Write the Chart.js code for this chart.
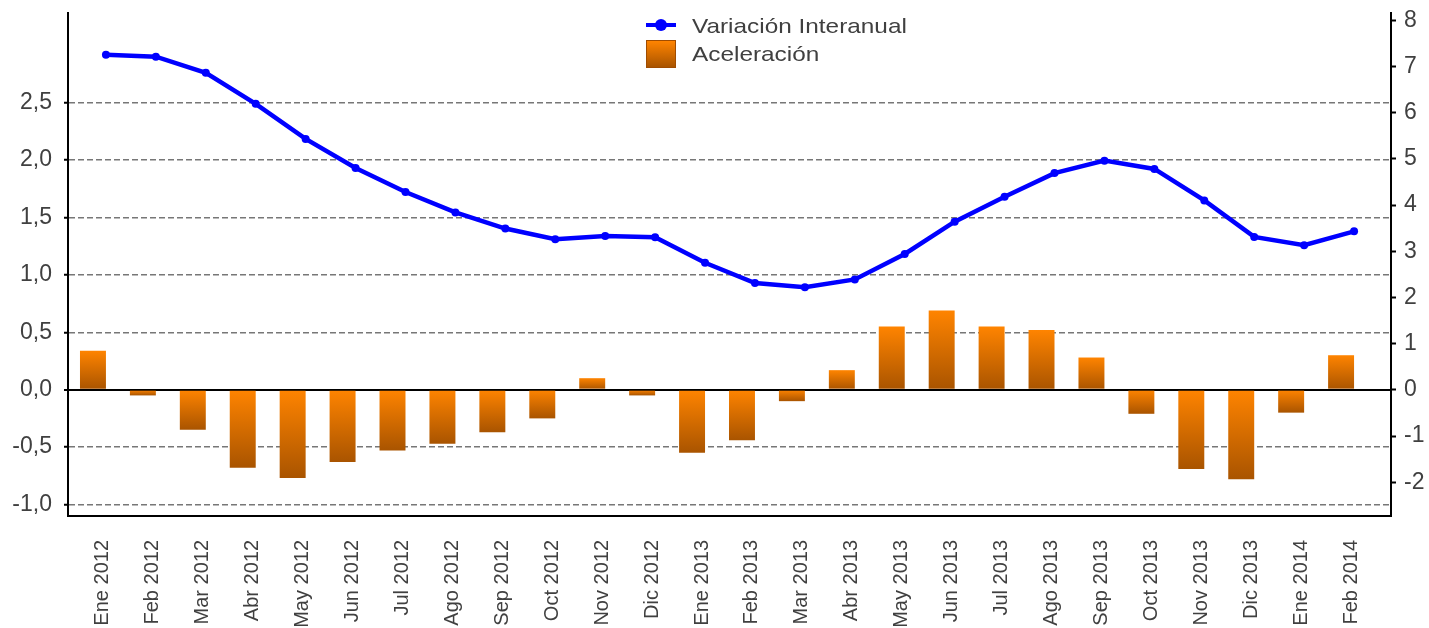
<!DOCTYPE html>
<html>
<head>
<meta charset="utf-8">
<script src="https://cdn.jsdelivr.net/npm/chart.js@4.4.1/dist/chart.umd.min.js"></script>
<style>
  body { margin: 0; background: #fff; }
  #wrap { position: relative; width: 1429px; height: 628px; }
  .leg { position: absolute; font: 21px "Liberation Sans", Arial, sans-serif; color: #404040; line-height: 26px;
         white-space: nowrap; transform: scaleX(1.16); transform-origin: left center; }
  .linea { position: absolute; left: 646px; top: 23px; width: 30px; height: 4px; background: #0000ff; }
  .punto { position: absolute; left: 655px; top: 19px; width: 12px; height: 12px; border-radius: 50%; background: #0000ff; }
  .caja { position: absolute; left: 646px; top: 40px; width: 28px; height: 26px; border: 1px solid #a04c00;
          background: linear-gradient(#ff8400, #a95400); }
</style>
</head>
<body>
<div id="wrap">
  <canvas id="grafico" width="1429" height="628"></canvas>
  <div class="linea"></div><div class="punto"></div>
  <div class="leg" style="left:692px; top:13px;">Variación Interanual</div>
  <div class="caja"></div>
  <div class="leg" style="left:692px; top:41px;">Aceleración</div>
</div>
<script>
// meses de ene 2012 a feb 2014
const meses = ["Ene 2012", "Feb 2012", "Mar 2012", "Abr 2012", "May 2012", "Jun 2012",
               "Jul 2012", "Ago 2012", "Sep 2012", "Oct 2012", "Nov 2012", "Dic 2012",
               "Ene 2013", "Feb 2013", "Mar 2013", "Abr 2013", "May 2013", "Jun 2013",
               "Jul 2013", "Ago 2013", "Sep 2013", "Oct 2013", "Nov 2013", "Dic 2013",
               "Ene 2014", "Feb 2014"];
// eje derecho
const variacion = [7.25, 7.21, 6.86, 6.19, 5.43, 4.80, 4.28, 3.84, 3.49, 3.26, 3.33, 3.30,
                   2.75, 2.31, 2.22, 2.39, 2.94, 3.64, 4.18, 4.69, 4.96, 4.78, 4.10, 3.31,
                   3.13, 3.43];
// eje izquierdo
const aceleracion = [0.34, -0.05, -0.35, -0.68, -0.77, -0.63, -0.53, -0.47, -0.37, -0.25, 0.10, -0.05,
                     -0.55, -0.44, -0.10, 0.17, 0.55, 0.69, 0.55, 0.52, 0.28, -0.21, -0.69, -0.78,
                     -0.20, 0.30];
const ticksIzq = [-1, -0.5, 0, 0.5, 1, 1.5, 2, 2.5];
const ticksDer = [-2, -1, 0, 1, 2, 3, 4, 5, 6, 7, 8];

Chart.defaults.font.family = "'Liberation Sans', Arial, sans-serif";
Chart.defaults.color = '#404040';

function sinPadding(s) { s.paddingTop = 0; s.paddingBottom = 0; s.paddingLeft = 0; s.paddingRight = 0; }

// degradado naranja por barra
function degradado(ctx) {
  const chart = ctx.chart;
  const y = chart.scales.yL;
  if (!y || !ctx.raw) return '#f07c00';
  const v = ctx.raw.y;
  const arriba = y.getPixelForValue(Math.max(v, 0));
  const abajo = y.getPixelForValue(Math.min(v, 0));
  if (!isFinite(arriba) || abajo - arriba < 1) return '#ff8400';
  const g = chart.ctx.createLinearGradient(0, arriba, 0, abajo);
  g.addColorStop(0, '#ff8400');
  g.addColorStop(1, '#a95400');
  return g;
}

new Chart("grafico", {
  data: {
    datasets: [
      {
        type: 'line',
        label: 'Variación Interanual',
        data: variacion.map((v, i) => ({ x: i, y: v })),
        xAxisID: 'x2',
        yAxisID: 'yR',
        borderColor: '#0000ff',
        backgroundColor: '#0000ff',
        borderWidth: 4.5,
        pointRadius: 4,
        pointBorderWidth: 0,
        pointBackgroundColor: '#0000ff',
        tension: 0,
        order: 0
      },
      {
        type: 'bar',
        label: 'Aceleración',
        data: aceleracion.map((v, i) => ({ x: i, y: v })),
        xAxisID: 'x',
        yAxisID: 'yL',
        backgroundColor: degradado,
        borderWidth: 0,
        grouped: false,
        barPercentage: 0.52,
        categoryPercentage: 1,
        order: 1
      }
    ]
  },
  options: {
    responsive: false,
    animation: false,
    layout: { padding: { top: 13, left: 0, right: 0, bottom: 0 } },
    plugins: { legend: { display: false }, tooltip: { enabled: false } },
    scales: {
      x: {
        type: 'linear',
        position: 'bottom',
        offset: false,
        min: -0.5,
        max: meses.length,
        grid: { display: false, drawTicks: false, offset: false },
        border: { display: true, color: '#000', width: 2 },
        afterBuildTicks: s => { s.ticks = meses.map((m, i) => ({ value: i })); },
        afterFit: s => { sinPadding(s); s.height = 112; },
        ticks: {
          autoSkip: false, minRotation: 90, maxRotation: 90, padding: 24, labelOffset: 10,
          font: { size: 20 },
          callback: v => meses[v]
        }
      },
      x2: {
        type: 'linear',
        display: false,
        offset: false,
        min: -0.76,
        max: meses.length - 0.26
      },
      yL: {
        type: 'linear',
        position: 'left',
        min: -1.1,
        max: 3.28,
        afterBuildTicks: s => { s.ticks = ticksIzq.map(v => ({ value: v })); },
        afterFit: s => { sinPadding(s); s.width = 68; },
        grid: {
          color: c => (c.tick && c.tick.value === 0) ? '#000' : '#777777',
          lineWidth: c => (c.tick && c.tick.value === 0) ? 2 : 1.5,
          tickColor: '#000', tickLength: 4, tickWidth: 2, tickBorderDash: []
        },
        border: {
          display: true, color: '#000', width: 2,
          dash: c => (c.tick && c.tick.value === 0) ? [] : [6, 3]
        },
        ticks: {
          padding: 12, font: { size: 23 },
          callback: v => v.toFixed(1).replace('.', ',')
        }
      },
      yR: {
        type: 'linear',
        position: 'right',
        min: -2.73,
        max: 8.155,
        afterBuildTicks: s => { s.ticks = ticksDer.map(v => ({ value: v })); },
        afterFit: s => { sinPadding(s); s.width = 38; },
        grid: { drawOnChartArea: false, tickColor: '#000', tickLength: 5, tickWidth: 2 },
        border: { display: true, color: '#000', width: 2 },
        ticks: { padding: 8, font: { size: 23 }, callback: v => String(v) }
      }
    }
  }
});
</script>
</body>
</html>
